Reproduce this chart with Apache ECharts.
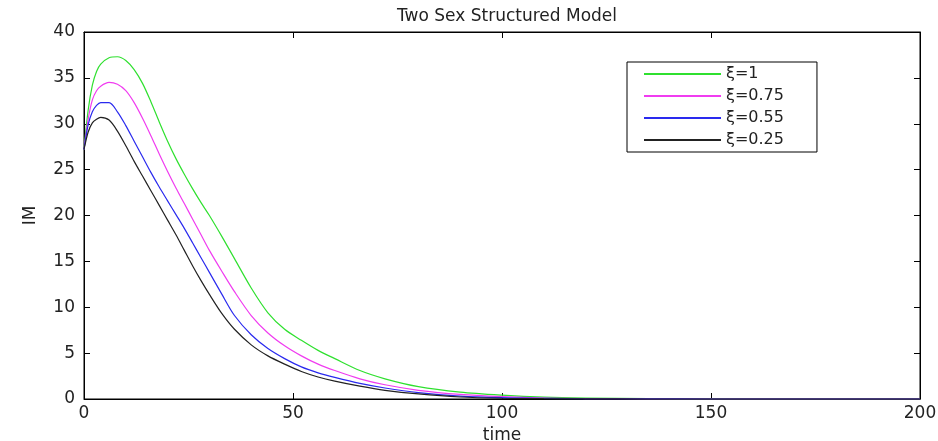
<!DOCTYPE html>
<html>
<head>
<meta charset="utf-8">
<script src="https://cdn.jsdelivr.net/npm/echarts@6/dist/echarts.min.js"></script>
<style>
  html, body { margin: 0; padding: 0; background: #fff; }
  #chart { width: 938px; height: 441px; }
</style>
</head>
<body>
<div id="chart"></div>
<script>
// time samples shared by all curves
const times = [0, 1, 2, 3, 4, 6, 8, 10, 12, 14, 16, 18, 20, 22, 24, 26, 28, 30, 33, 36, 40, 44, 48, 52, 56, 60, 66, 72, 80, 90, 100, 110, 120, 135, 150, 170, 200];

const xi1   = [27.2, 31.5, 34.2, 35.7, 36.5, 37.2, 37.3, 36.9, 35.9, 34.4, 32.4, 30.2, 28.1, 26.2, 24.5, 22.9, 21.4, 20.0, 17.7, 15.3, 12.1, 9.4, 7.6, 6.4, 5.3, 4.4, 3.1, 2.2, 1.35, 0.75, 0.42, 0.2, 0.1, 0.04, 0.01, 0, 0];
const xi075 = [27.2, 30.5, 32.6, 33.6, 34.1, 34.5, 34.3, 33.6, 32.3, 30.6, 28.7, 26.7, 24.8, 23.0, 21.3, 19.6, 17.9, 16.2, 13.9, 11.7, 9.1, 7.2, 5.8, 4.7, 3.8, 3.1, 2.2, 1.55, 0.95, 0.5, 0.25, 0.1, 0.05, 0.02, 0, 0, 0];
const xi055 = [27.2, 29.9, 31.3, 32.0, 32.3, 32.3, 31.3, 29.8, 28.1, 26.4, 24.7, 23.1, 21.6, 20.1, 18.6, 17.0, 15.4, 13.8, 11.4, 9.1, 7.0, 5.5, 4.4, 3.5, 2.85, 2.35, 1.7, 1.2, 0.7, 0.32, 0.14, 0.06, 0.02, 0.01, 0, 0, 0];
const xi025 = [27.2, 29.1, 30.1, 30.5, 30.7, 30.4, 29.2, 27.6, 25.9, 24.3, 22.7, 21.1, 19.5, 17.9, 16.2, 14.5, 12.9, 11.4, 9.3, 7.6, 5.9, 4.7, 3.8, 3.0, 2.4, 1.95, 1.4, 0.95, 0.55, 0.22, 0.08, 0.03, 0.01, 0, 0, 0, 0];

const seriesNames = ['ξ=1', 'ξ=0.75', 'ξ=0.55', 'ξ=0.25'];
const seriesValues = [xi1, xi075, xi055, xi025];
const colors = ['#2fe02f', '#f03cf0', '#2a2aee', '#222222'];

const xTicks = { min: 0, max: 200, interval: 50 };
const yTicks = { min: 0, max: 40, interval: 5 };

const font = 'DejaVu Sans, Liberation Sans, sans-serif';

function pairs(vals) {
  return times.map(function (t, i) { return [t, vals[i]]; });
}

const chart = echarts.init(document.getElementById('chart'));

const axisBase = {
  type: 'value',
  splitLine: { show: false },
  axisLine: { show: true, onZero: false, lineStyle: { color: '#000', width: 1 } },
  axisTick: { show: true, inside: true, length: 6, lineStyle: { color: '#000' } }
};

chart.setOption({
  backgroundColor: '#fff',
  animation: false,
  title: {
    text: 'Two Sex Structured Model',
    left: 502,
    textAlign: 'center',
    top: 3,
    textStyle: { fontFamily: font, fontSize: 17, fontWeight: 'normal', color: '#222' }
  },
  grid: {
    left: 84, right: 18, top: 32, bottom: 42,
    outerBoundsMode: 'none', containLabel: false,
    show: true, borderColor: '#000', borderWidth: 1
  },
  legend: {
    orient: 'vertical',
    left: 627,
    top: 62,
    padding: [4, 33, 4, 16],
    itemGap: 6,
    itemWidth: 77,
    itemHeight: 14,
    borderColor: '#000',
    borderWidth: 1,
    backgroundColor: '#fff',
    itemStyle: { opacity: 0 },
    textStyle: { fontFamily: font, fontSize: 16, color: '#222' },
    data: seriesNames
  },
  xAxis: [
    Object.assign({}, axisBase, {
      min: xTicks.min, max: xTicks.max, interval: xTicks.interval,
      position: 'bottom',
      name: 'time', nameLocation: 'middle', nameGap: 26,
      nameTextStyle: { fontFamily: font, fontSize: 17, color: '#222' },
      axisLabel: { fontFamily: font, fontSize: 17, color: '#222', margin: 6 }
    }),
    Object.assign({}, axisBase, {
      min: xTicks.min, max: xTicks.max, interval: xTicks.interval,
      position: 'top',
      axisLabel: { show: false }
    })
  ],
  yAxis: [
    Object.assign({}, axisBase, {
      min: yTicks.min, max: yTicks.max, interval: yTicks.interval,
      position: 'left',
      name: 'IM', nameLocation: 'middle', nameGap: 45,
      nameTextStyle: { fontFamily: font, fontSize: 17, color: '#222' },
      axisLabel: { fontFamily: font, fontSize: 17, color: '#222', margin: 9 }
    }),
    Object.assign({}, axisBase, {
      min: yTicks.min, max: yTicks.max, interval: yTicks.interval,
      position: 'right',
      axisLabel: { show: false }
    })
  ],
  series: seriesNames.map(function (name, i) {
    return {
      name: name,
      type: 'line',
      xAxisIndex: 0,
      yAxisIndex: 0,
      symbol: 'none',
      smooth: 0.3,
      color: colors[i],
      lineStyle: { color: colors[i], width: 1.2 },
      data: pairs(seriesValues[i])
    };
  })
});
</script>
</body>
</html>
